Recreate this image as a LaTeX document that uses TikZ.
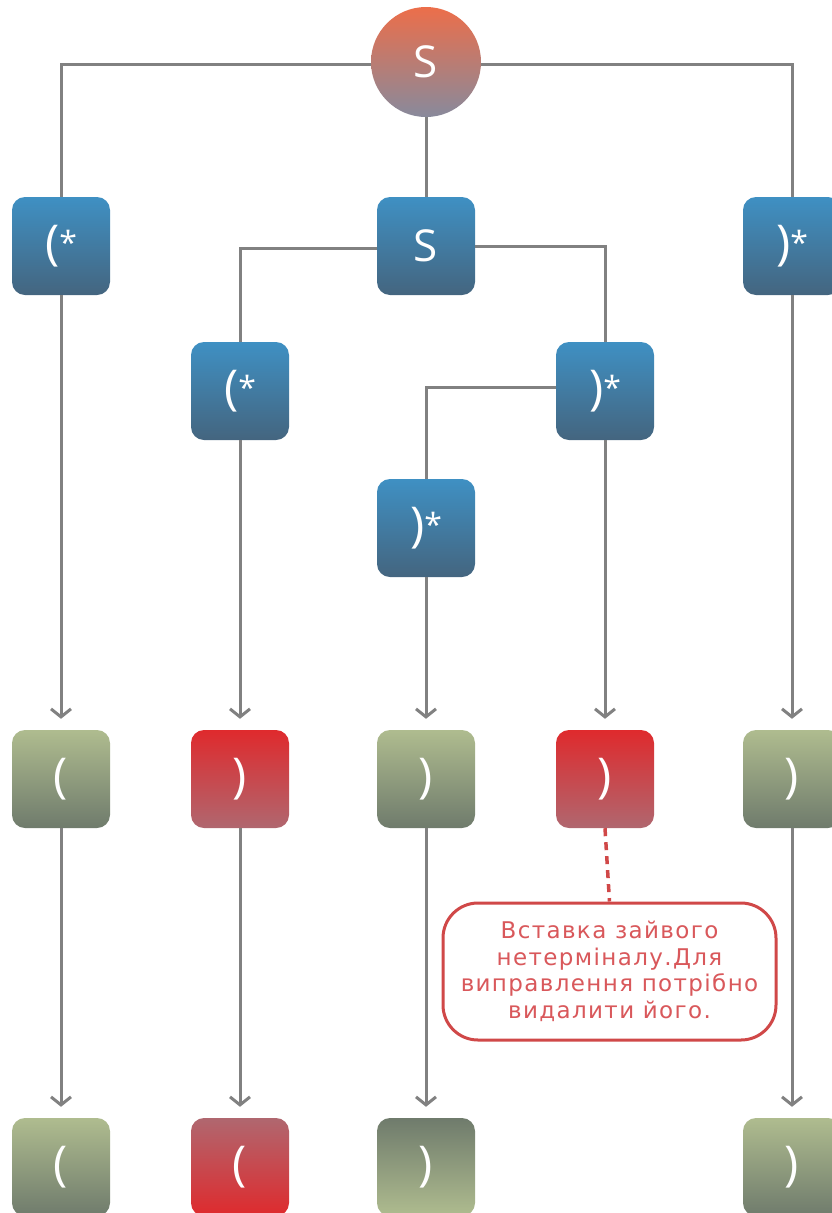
\documentclass[tikz,border=0pt]{standalone}
\usepackage{fontspec}
\setmainfont{Open Sans}
\newfontfamily\notefont[LetterSpace=6]{DejaVu Sans}
\usetikzlibrary{arrows.meta}

\definecolor{linegray}{HTML}{818181}
\definecolor{rootTop}{HTML}{EC6E4A}
\definecolor{rootBot}{HTML}{888A9C}
\definecolor{blueTop}{HTML}{3F90C3}
\definecolor{blueBot}{HTML}{44657F}
\definecolor{greenLt}{HTML}{AFBC8F}
\definecolor{greenDk}{HTML}{6F7B6C}
\definecolor{redLt}{HTML}{DF2A2D}
\definecolor{redDk}{HTML}{B0676F}
\definecolor{noteRed}{HTML}{D04848}
\definecolor{noteText}{HTML}{D9585B}

% glyph helpers: tall parenthesis, smaller raised star
\newcommand\pglyph[1]{{\fontsize{48}{48}\selectfont #1}}
\newcommand\sglyph{\raisebox{5pt}{\fontsize{32}{32}\selectfont *}}

\tikzset{
  sym/.style={text=white, font=\fontsize{44}{44}\selectfont},
  tile/.style={sym, rectangle, rounded corners=13pt, minimum width=98pt,
    minimum height=98pt, inner sep=0pt},
  rule/.style={tile, top color=blueTop, bottom color=blueBot},
  okdown/.style={tile, top color=greenLt, bottom color=greenDk},
  okup/.style={tile, top color=greenDk, bottom color=greenLt},
  baddown/.style={tile, top color=redLt, bottom color=redDk},
  badup/.style={tile, top color=redDk, bottom color=redLt},
  wire/.style={draw=linegray, line width=3pt},
  flow/.style={wire, -{Straight Barb[length=8pt,width=20pt,line width=3pt]},
    shorten >=11pt},
  hint/.style={draw=noteRed, line width=3.5pt, dash pattern=on 8pt off 6pt},
}

\begin{document}
\begin{tikzpicture}[x=1pt,y=-1pt]
\useasboundingbox (0,0) rectangle (832,1213);

% root symbol
\node[sym, circle, minimum size=110pt, inner sep=0pt,
  top color=rootTop, bottom color=rootBot] (root) at (426,62) {S};

% derivation rules
\node[rule] (l1) at (61,246) {\pglyph{(}\sglyph};
\node[rule] (m1) at (426,246) {S};
\node[rule] (r1) at (792,246) {\pglyph{)}\sglyph};
\node[rule] (l2) at (240,391) {\pglyph{(}\sglyph};
\node[rule] (r2) at (605,391) {\pglyph{)}\sglyph};
\node[rule] (m2) at (426,528) {\pglyph{)}\sglyph};

% observed tokens
\node[okdown]  (a1) at (61,779)  {\pglyph{(}};
\node[baddown] (a2) at (240,779) {\pglyph{)}};
\node[okdown]  (a3) at (426,779) {\pglyph{)}};
\node[baddown] (a4) at (605,779) {\pglyph{)}};
\node[okdown]  (a5) at (792,779) {\pglyph{)}};

% corrected tokens
\node[okdown] (b1) at (61,1167)  {\pglyph{(}};
\node[badup]  (b2) at (240,1167) {\pglyph{(}};
\node[okup]   (b3) at (426,1167) {\pglyph{)}};
\node[okdown] (b5) at (792,1167) {\pglyph{)}};

% note
\node[draw=noteRed, line width=3pt, rounded corners=35pt, fill=white,
  minimum width=333pt, minimum height=137pt, align=center, text=noteText,
  font=\notefont\fontsize{23}{26.5}\selectfont] (note) at (609.5,971.5)
  {Вставка зайвого\\нетерміналу.Для\\виправлення потрібно\\видалити його.};

% tree structure
\draw[wire] ([yshift=-2pt]root.west) -| (l1.north);
\draw[wire] ([yshift=-2pt]root.east) -| (r1.north);
\draw[wire] (root.south) -- (m1.north);
\draw[wire] ([yshift=-2pt]m1.west) -| (l2.north);
\draw[wire] (m1.east) -| (r2.north);
\draw[wire] ([yshift=4pt]r2.west) -| (m2.north);

% arrows to tokens
\draw[flow] (l1.south) -- (a1.north);
\draw[flow] (l2.south) -- (a2.north);
\draw[flow] (m2.south) -- (a3.north);
\draw[flow] (r2.south) -- (a4.north);
\draw[flow] (r1.south) -- (a5.north);

\draw[flow] (a1.south) -- (b1.north);
\draw[flow] (a2.south) -- (b2.north);
\draw[flow] (a3.south) -- (b3.north);
\draw[flow] (a5.south) -- (b5.north);

\draw[hint] (a4.south) -- (note.north);
\end{tikzpicture}
\end{document}
